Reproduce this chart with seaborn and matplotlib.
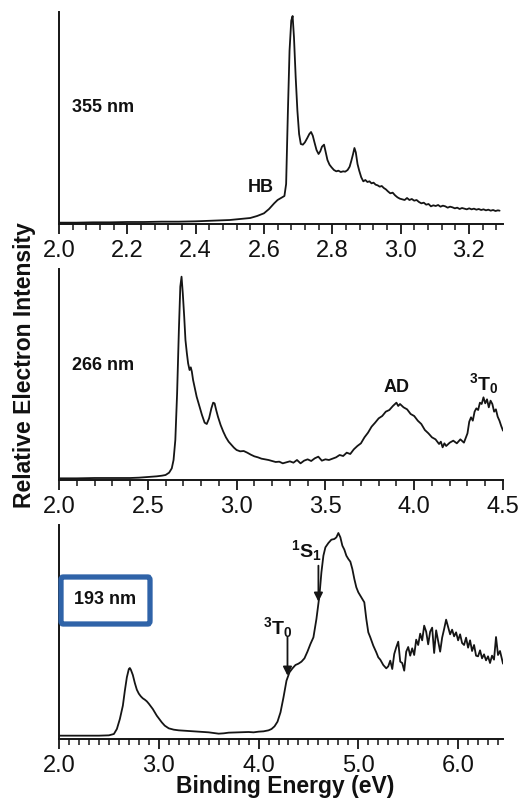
import matplotlib
matplotlib.use("Agg")
import matplotlib.pyplot as plt
import seaborn as sns
import pandas as pd
from matplotlib.patches import FancyBboxPatch
from matplotlib.ticker import MultipleLocator

sns.set_theme(style="ticks")
plt.rcParams['font.family'] = ['Liberation Sans', 'DejaVu Sans']
plt.rcParams['mathtext.fontset'] = 'custom'
plt.rcParams['mathtext.bf'] = 'Liberation Sans:bold'
plt.rcParams['mathtext.rm'] = 'Liberation Sans:bold'

# ---------------- data ----------------
e355 = [2.00,2.05,2.10,2.15,2.20,2.25,2.30,2.35,2.40,2.45,2.50,2.53,2.56,2.58,2.60,2.615,2.63,2.64,2.65,2.66,
        2.665,2.670,2.675,2.680,2.684,2.688,2.693,2.698,2.703,2.708,2.714,2.72,2.727,2.733,2.738,2.743,2.748,2.754,2.760,2.765,
        2.770,2.776,2.781,2.786,2.792,2.798,2.805,2.812,2.818,2.825,2.832,2.838,2.845,2.851,2.856,2.861,2.865,2.869,2.874,2.879,
        2.885,2.891,2.897,2.903,2.909,2.915,2.921,2.927,2.933,2.939,2.945,2.951,2.957,2.963,2.970,2.977,2.984,2.991,2.998,3.005,
        3.012,3.019,3.026,3.033,3.040,3.047,3.054,3.061,3.068,3.075,3.082,3.089,3.096,3.103,3.110,3.117,3.124,3.131,3.138,3.145,
        3.152,3.159,3.166,3.173,3.180,3.187,3.194,3.201,3.208,3.215,3.222,3.229,3.236,3.243,3.250,3.257,3.264,3.271,3.278,3.285,
        3.29]
i355 = [4,4,5,5,6,6,7,7,8,10,12,15,18,24,32,45,62,72,78,84,
        120,330,520,610,624,560,440,340,270,240,238,245,258,270,276,265,245,222,210,218,
        232,238,215,192,178,170,162,158,160,156,158,157,162,172,190,210,228,215,180,160,
        140,128,132,126,128,122,124,118,116,112,114,108,104,98,92,94,86,80,76,74,
        72,78,72,75,70,72,66,62,64,58,60,53,56,54,57,52,55,53,49,52,
        50,47,49,45,48,46,44,47,44,46,43,45,42,44,41,43,40,42,39,41,
        40]

e266 = [2.00,2.10,2.20,2.30,2.40,2.45,2.50,2.55,2.58,2.60,2.62,2.635,2.645,2.655,2.665,2.675,2.683,2.69,2.697,2.705,
        2.712,2.72,2.727,2.735,2.742,2.748,2.755,2.765,2.775,2.79,2.805,2.82,2.832,2.845,2.858,2.868,2.876,2.885,2.895,2.91,
        2.925,2.94,2.955,2.97,2.985,3.00,3.02,3.04,3.06,3.08,3.10,3.12,3.14,3.16,3.18,3.20,3.22,3.24,3.26,3.28,
        3.30,3.32,3.34,3.36,3.38,3.40,3.42,3.44,3.46,3.48,3.50,3.52,3.54,3.56,3.58,3.60,3.62,3.64,3.66,3.68,
        3.70,3.72,3.74,3.76,3.78,3.80,3.82,3.84,3.86,3.88,3.90,3.91,3.92,3.94,3.96,3.98,4.00,4.02,4.04,4.06,
        4.08,4.10,4.12,4.14,4.15,4.16,4.17,4.18,4.20,4.22,4.24,4.26,4.28,4.30,4.31,4.32,4.33,4.34,4.35,4.36,
        4.37,4.38,4.39,4.40,4.41,4.42,4.43,4.44,4.45,4.46,4.47,4.48,4.49,4.50]
i266 = [5,5,6,6,6,7,9,11,13,15,22,35,60,120,260,450,580,610,560,490,
        420,380,350,330,338,325,300,275,250,222,195,172,168,185,215,232,230,210,190,165,
        145,128,115,106,97,90,86,87,82,76,71,68,64,62,60,57,54,55,50,53,
        56,52,60,50,58,62,57,65,70,58,62,60,64,68,75,72,82,78,92,102,
        110,128,142,160,172,185,192,205,210,222,232,222,228,218,212,198,192,178,168,150,
        140,128,122,108,115,98,110,102,112,118,110,122,112,140,175,188,178,205,215,210,
        232,228,248,230,242,218,238,228,205,212,190,178,162,148]

e193 = [2.00,2.10,2.20,2.30,2.40,2.50,2.55,2.58,2.61,2.64,2.66,2.68,2.70,2.71,2.72,2.74,2.76,2.78,2.80,2.82,
        2.84,2.86,2.88,2.90,2.92,2.94,2.96,2.98,3.00,3.03,3.06,3.10,3.15,3.20,3.30,3.40,3.50,3.60,3.65,3.70,
        3.80,3.90,3.95,4.00,4.05,4.10,4.13,4.16,4.19,4.22,4.25,4.28,4.31,4.34,4.37,4.40,4.43,4.46,4.49,4.52,
        4.55,4.58,4.61,4.63,4.65,4.67,4.70,4.73,4.76,4.78,4.80,4.82,4.84,4.86,4.88,4.90,4.92,4.94,4.96,4.98,
        5.00,5.03,5.06,5.08,5.10,5.12,5.15,5.18,5.20,5.22,5.25,5.28,5.30,5.32,5.34,5.36,5.38,5.40,5.42,5.44,
        5.46,5.48,5.50,5.52,5.54,5.56,5.58,5.60,5.62,5.64,5.66,5.68,5.70,5.72,5.74,5.76,5.78,5.80,5.82,5.84,
        5.86,5.88,5.90,5.92,5.94,5.96,5.98,6.00,6.02,6.04,6.06,6.08,6.10,6.12,6.14,6.16,6.18,6.20,6.22,6.24,
        6.26,6.28,6.30,6.32,6.34,6.36,6.38,6.40,6.42,6.45]
i193 = [10,10,10,10,10,11,15,30,60,100,145,185,210,213,208,192,168,148,136,128,
        122,118,113,106,98,90,80,70,62,50,40,32,28,26,24,22,20,16,17,19,
        20,21,20,22,23,26,30,38,52,80,125,175,200,212,222,226,232,242,262,285,
        305,360,430,500,550,575,588,598,600,605,618,605,580,568,550,540,532,510,480,455,
        440,425,410,360,320,305,280,260,245,238,222,212,218,235,210,255,275,292,232,228,
        205,262,276,250,272,252,298,282,316,296,340,322,284,322,334,258,326,294,262,304,
        330,358,336,314,328,308,320,296,314,288,282,304,274,296,264,282,250,248,266,242,
        254,236,248,228,250,238,306,252,264,226]

panels = ["355 nm", "266 nm", "193 nm"]
xlims = [(2.0, 3.3), (2.0, 4.5), (2.0, 6.45)]
major_steps = [0.2, 0.5, 1.0]
minor_steps = [0.04, 0.1, 0.1]
ylims = [(0, 636), (0, 633), (0, 642)]

series = [(e355, i355), (e266, i266), (e193, i193)]

# ---------------- figure ----------------
W, H = 531, 801
fig = plt.figure(figsize=(W / 100, H / 100), dpi=100)

def px_rect(x0, y0, x1, y1):
    return [x0 / W, 1 - y1 / H, (x1 - x0) / W, (y1 - y0) / H]

rects = [px_rect(59, 12, 503, 224), px_rect(59, 269, 503, 480), px_rect(59, 525, 503, 739)]
ink = '#151515'

axes = []
for k, (rect, (ex, iy)) in enumerate(zip(rects, series)):
    ax = fig.add_axes(rect)
    df = pd.DataFrame({"E": ex, "I": iy})
    sns.lineplot(data=df, x="E", y="I", ax=ax, color=ink, lw=1.3, sort=True, estimator=None)
    ax.set_xlim(*xlims[k])
    ax.set_ylim(*ylims[k])
    ax.set_xlabel("")
    ax.set_ylabel("")
    ax.set_yticks([])
    ax.xaxis.set_major_locator(MultipleLocator(major_steps[k]))
    ax.xaxis.set_minor_locator(MultipleLocator(minor_steps[k]))
    ax.xaxis.set_major_formatter(matplotlib.ticker.FormatStrFormatter('%.1f'))
    ax.tick_params(axis='x', which='major', length=7, width=1.3, direction='out',
                   labelsize=17, pad=4.5, color=ink, labelcolor='#111111')
    ax.tick_params(axis='x', which='minor', length=4, width=1.1, direction='out', color=ink)
    sns.despine(ax=ax, top=True, right=True)
    for s in ('left', 'bottom'):
        ax.spines[s].set_linewidth(1.4)
        ax.spines[s].set_color(ink)
    ax.patch.set_alpha(0)
    axes.append(ax)

ax1, ax2, ax3 = axes

bold = dict(fontweight='bold', color='#111111', ha='center', va='center')
ax1.text(2.13, 348, panels[0], fontsize=13, **bold)
ax1.text(2.59, 108, "HB", fontsize=13, **bold)

ax2.text(2.25, 345, panels[1], fontsize=13, **bold)
ax2.text(3.90, 276, "AD", fontsize=13, **bold)
ax2.text(4.39, 290, r"$\mathbf{^{3}T_{0}}$", fontsize=14, **bold)

ax3.text(2.46, 417, panels[2], fontsize=13, **bold)
box = FancyBboxPatch((61 / W, 1 - 624 / H), (150 - 61) / W, (624 - 577) / H,
                     boxstyle="round,pad=0,rounding_size=0.004",
                     transform=fig.transFigure, fill=False,
                     edgecolor='#2f63a8', linewidth=3.8, zorder=5)
fig.patches.append(box)

arrow = dict(arrowstyle='-|>', mutation_scale=13, lw=1.3, color=ink, shrinkA=0, shrinkB=0)
ax3.annotate("", xy=(4.29, 190), xytext=(4.29, 305), arrowprops=arrow)
ax3.text(4.19, 335, r"$\mathbf{^{3}T_{0}}$", fontsize=14, **bold)
ax3.annotate("", xy=(4.60, 412), xytext=(4.60, 520), arrowprops=arrow)
ax3.text(4.48, 566, r"$\mathbf{^{1}S_{1}}$", fontsize=14, **bold)

fig.text(0.047, 0.544, "Relative Electron Intensity", rotation=90, fontsize=16.5,
         fontweight='bold', ha='center', va='center', color='#111111')
fig.text(285 / W, 1 - 787 / H, "Binding Energy (eV)", fontsize=16.5,
         fontweight='bold', ha='center', va='center', color='#111111')

fig.savefig("out.png", dpi=100)
